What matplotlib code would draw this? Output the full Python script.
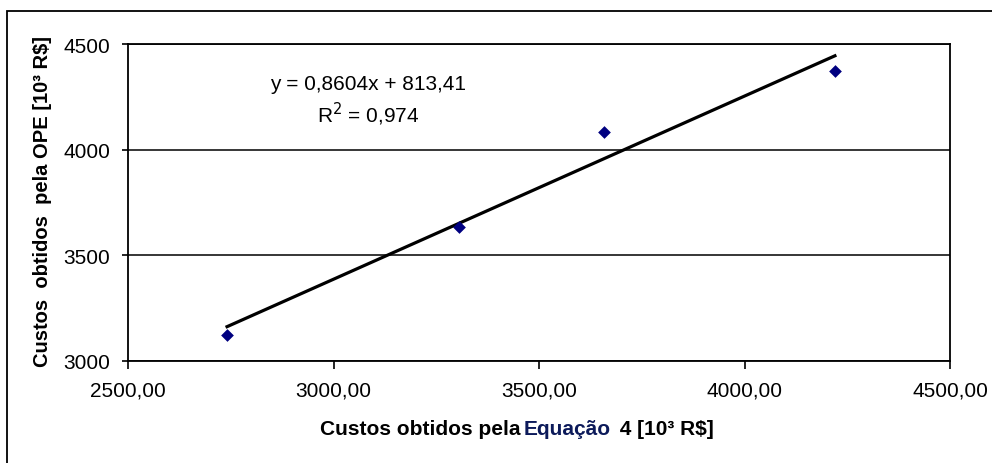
import numpy as np
import matplotlib
matplotlib.use("Agg")
import matplotlib.pyplot as plt
from matplotlib.patches import Rectangle

plt.rcParams['font.family'] = ['Liberation Sans', 'DejaVu Sans']

# Data
custos_equacao = [2741, 3306, 3657, 4220]   # x: Custos obtidos pela Equação 4
custos_ope = [3125, 3634, 4084, 4372]       # y: Custos obtidos pela OPE
x_ticks = [2500, 3000, 3500, 4000, 4500]
y_ticks = [3000, 3500, 4000, 4500]
x_tick_labels = ["2500,00", "3000,00", "3500,00", "4000,00", "4500,00"]
y_tick_labels = ["3000", "3500", "4000", "4500"]
equation_text = "y = 0,8604x + 813,41"
r2_text = "R$^2$ = 0,974"

fig = plt.figure(figsize=(9.92, 4.64), dpi=100)
ax = fig.add_axes([128/992, 1-362/464, 822/992, 317/464])

# Outer chart border
fig.patches.append(Rectangle((7/992, -0.2), 1.2, 1.2 - 11.5/464, transform=fig.transFigure,
                             fill=False, edgecolor='black', lw=1.3, clip_on=False))

ax.scatter(custos_equacao, custos_ope, marker='D', s=42, color='#000080', zorder=3, linewidths=0)

xs = np.array(custos_equacao, dtype=float)
ys = np.array(custos_ope, dtype=float)
slope, intercept = np.polyfit(xs, ys, 1)
xl = np.array([xs.min(), xs.max()])
ax.plot(xl, slope * xl + intercept, color='black', lw=2.3, zorder=2)

ax.set_xlim(2500, 4500)
ax.set_ylim(3000, 4500)
ax.set_xticks(x_ticks)
ax.set_xticklabels(x_tick_labels)
ax.set_yticks(y_ticks)
ax.set_yticklabels(y_tick_labels)
ax.tick_params(axis='x', direction='out', length=6, width=1.2, pad=8, labelsize=15)
ax.tick_params(axis='y', direction='out', length=4, width=1.2, pad=9, labelsize=15)
ax.yaxis.grid(True, color='black', lw=1.1)
ax.set_axisbelow(True)
for s in ax.spines.values():
    s.set_linewidth(1.3)
    s.set_color('black')

ax.text((368-128)/822, 1-(84-45)/317, equation_text, transform=ax.transAxes,
        ha='center', va='center', fontsize=15)
ax.text((368-128)/822, 1-(114-45)/317, r2_text, transform=ax.transAxes,
        ha='center', va='center', fontsize=15)

# Y label
fig.text(43/992, 1-202/464, "Custos  obtidos  pela OPE [10³ R$]", rotation=90,
         ha='center', va='center', fontsize=14.5, fontweight='bold')

# X label in pieces (Equação in dark blue)
t1 = fig.text(320/992, 1-435/464, "Custos obtidos pela", ha='left', va='baseline',
              fontsize=15, fontweight='bold', color='black')
t2 = fig.text(0, 0, "Equação", fontsize=15, fontweight='bold', color='#0c1a5a',
              ha='left', va='baseline')
t3 = fig.text(0, 0, " 4 [10³ R$]", fontsize=15, fontweight='bold', color='black',
              ha='left', va='baseline')

fig.canvas.draw()
r = fig.canvas.get_renderer()
bb1 = t1.get_window_extent(r)
t2.set_position(((bb1.x1 + 3) / fig.bbox.width, 1-435/464))
fig.canvas.draw()
bb2 = t2.get_window_extent(r)
t3.set_position(((bb2.x1 + 3) / fig.bbox.width, 1-435/464))

fig.savefig("out.png", dpi=100)
